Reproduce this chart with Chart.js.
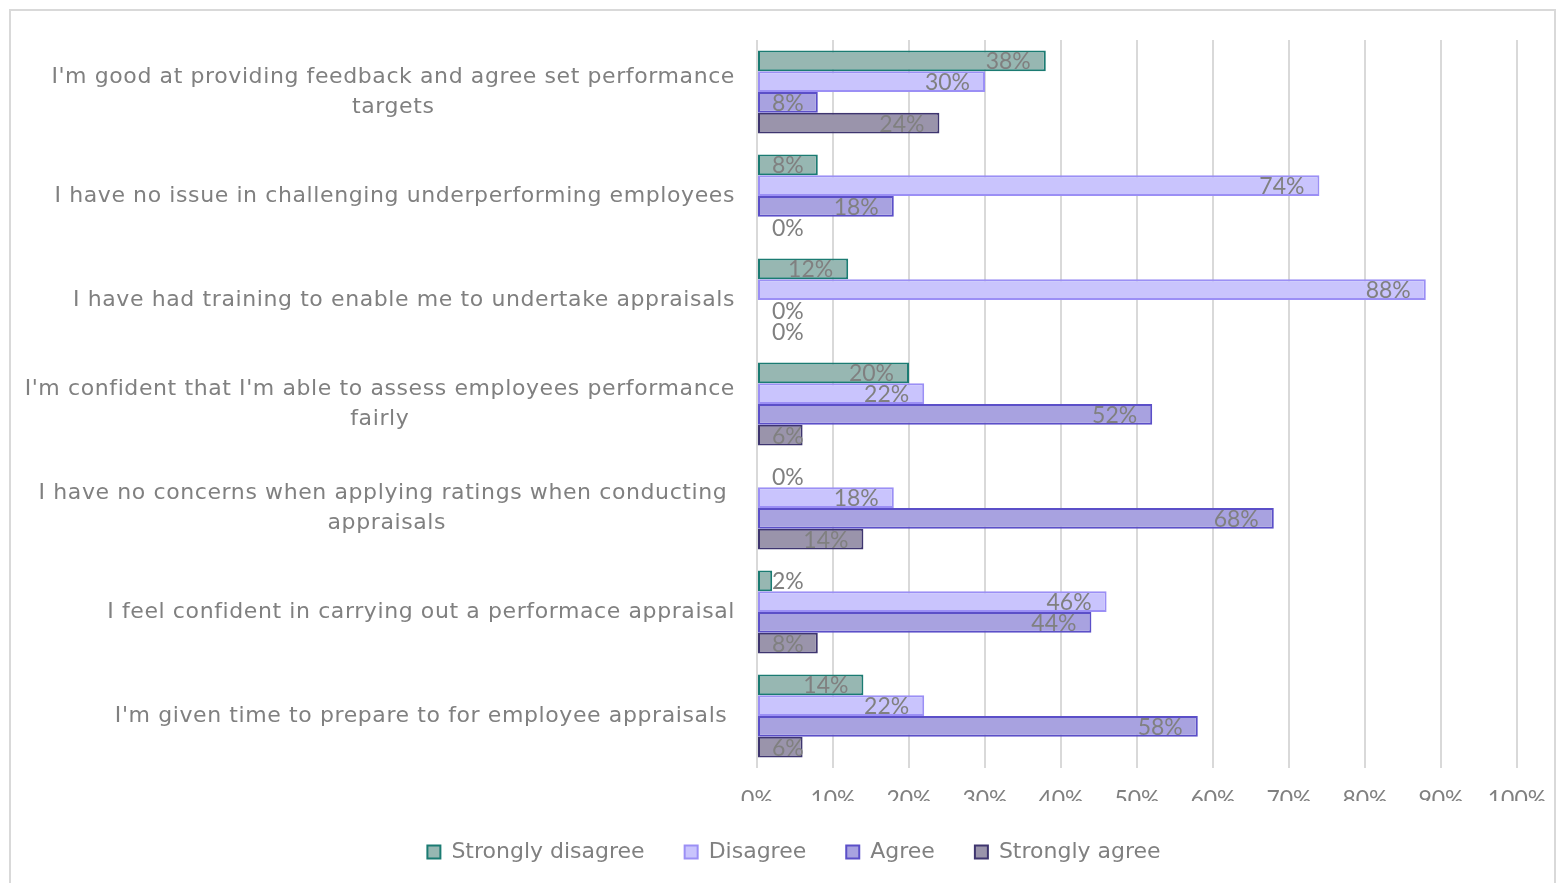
<!DOCTYPE html>
<html>
<head>
<meta charset="utf-8">
<script src="https://cdn.jsdelivr.net/npm/chart.js@4.4.1/dist/chart.umd.min.js"></script>
<style>
    html, body { margin: 0; padding: 0; background: #fff; }
    #frame {
        position: absolute; left: 9px; top: 9px;
        width: 1547px; height: 874px;
        border: 2px solid #d9d9d9; border-bottom: none;
        box-sizing: border-box;
    }
    #chart { position: absolute; left: 0; top: 0; }
</style>
</head>
<body>
<div id="frame"><canvas id="chart" width="1545" height="872"></canvas></div>
<script>
// statements (top to bottom)
const statements = [
    ["I'm good at providing feedback and agree set performance", "targets"],
    "I have no issue in challenging underperforming employees",
    "I have had training to enable me to undertake appraisals",
    ["I'm confident that I'm able to assess employees performance", "fairly"],
    ["I have no concerns when applying ratings when conducting ", "appraisals"],
    "I feel confident in carrying out a performace appraisal",
    "I'm given time to prepare to for employee appraisals "
];

// percentages per answer
const stronglyDisagree = [38, 8, 12, 20, 0, 2, 14];
const disagree         = [30, 74, 88, 22, 18, 46, 22];
const agree            = [8, 18, 0, 52, 68, 44, 58];
const stronglyAgree    = [24, 0, 0, 6, 14, 8, 6];

const xTicks = [0, 10, 20, 30, 40, 50, 60, 70, 80, 90, 100];

const FONT = '"DejaVu Sans", sans-serif';
const NUM_FONT = 'Lato, "DejaVu Sans", sans-serif';
const GREY = '#808080';
const PLOT_BOTTOM = 757;   // canvas y of the plot's lower edge
const PAD_BOTTOM = 10;
const PAD_LEFT = 60;

// value labels at the bar ends, pushed right when the bar is too short
const barLabels = {
    id: 'barLabels',
    afterDatasetsDraw(chart) {
        const ctx = chart.ctx;
        const x0 = chart.scales.x.getPixelForValue(0);
        ctx.save();
        ctx.font = '23px ' + NUM_FONT;
        ctx.fillStyle = GREY;
        ctx.textBaseline = 'middle';
        ctx.textAlign = 'right';
        chart.data.datasets.forEach((ds, i) => {
            chart.getDatasetMeta(i).data.forEach((bar, j) => {
                const txt = ds.data[j] + '%';
                const w = ctx.measureText(txt).width;
                const x = Math.max(bar.x - 15, x0 + 15 + w);
                ctx.fillText(txt, x, bar.y + 1);
            });
        });
        ctx.restore();
    }
};

// category text: block right aligned, lines centred inside the block
const categoryText = {
    id: 'categoryText',
    afterDraw(chart) {
        const ctx = chart.ctx;
        const y = chart.scales.y;
        const right = y.right - 22;
        ctx.save();
        ctx.font = '22px ' + FONT;
        ctx.letterSpacing = '0.6px';
        ctx.fillStyle = GREY;
        ctx.textBaseline = 'middle';
        ctx.textAlign = 'center';
        statements.forEach((s, i) => {
            const lines = Array.isArray(s) ? s : [s];
            const blockW = Math.max(...lines.map(l => ctx.measureText(l).width));
            const cx = right - blockW / 2;
            const cy = y.getPixelForValue(i);
            const lh = 30;
            lines.forEach((l, k) => {
                ctx.fillText(l, cx, cy + (k - (lines.length - 1) / 2) * lh);
            });
        });
        ctx.restore();
    }
};

const makeSet = (label, data, fill, line) => ({
    label: label,
    data: data,
    backgroundColor: fill,
    borderColor: line,
    borderWidth: 2,
    borderSkipped: false,
    categoryPercentage: 0.8,
    barPercentage: 1.0
});

new Chart(document.getElementById('chart'), {
    type: 'bar',
    data: {
        labels: statements,
        datasets: [
            makeSet('Strongly disagree', stronglyDisagree, '#97b7b2', '#1b7b72'),
            makeSet('Disagree', disagree, '#c9c4fd', '#9b8ff5'),
            makeSet('Agree', agree, '#a8a2e0', '#5b4fc8'),
            makeSet('Strongly agree', stronglyAgree, '#9a94ab', '#3e356f')
        ]
    },
    options: {
        indexAxis: 'y',
        responsive: false,
        animation: false,
        layout: { padding: { top: 29, right: 39, bottom: PAD_BOTTOM, left: PAD_LEFT } },
        plugins: {
            legend: {
                position: 'bottom',
                labels: {
                    font: { family: FONT, size: 22 },
                    color: GREY,
                    boxWidth: 13,
                    boxHeight: 13,
                    padding: 40
                }
            },
            tooltip: { enabled: false }
        },
        scales: {
            x: {
                min: 0,
                max: 100,
                afterBuildTicks: (scale) => { scale.ticks = xTicks.map(v => ({ value: v })); },
                afterFit: (scale) => {
                    const c = scale.chart;
                    const lg = c.legend ? c.legend.height : 0;
                    scale.height = Math.max(0, c.height - PAD_BOTTOM - lg - PLOT_BOTTOM);
                    // let the layout padding alone decide the right edge
                    scale.paddingLeft = 0;
                    scale.paddingRight = 0;
                },
                grid: { color: '#d9d9d9', lineWidth: 2, drawTicks: false, tickLength: 0 },
                border: { display: false },
                ticks: {
                    callback: (v) => v + '%',
                    font: { family: NUM_FONT, size: 23 },
                    color: GREY,
                    padding: 18,
                    maxRotation: 0,
                    minRotation: 0,
                    autoSkip: false
                }
            },
            y: {
                afterFit: (scale) => { scale.width = 746 - PAD_LEFT; },
                grid: { display: false },
                border: { display: false },
                ticks: { display: false }
            }
        }
    },
    plugins: [barLabels, categoryText]
});
</script>
</body>
</html>
